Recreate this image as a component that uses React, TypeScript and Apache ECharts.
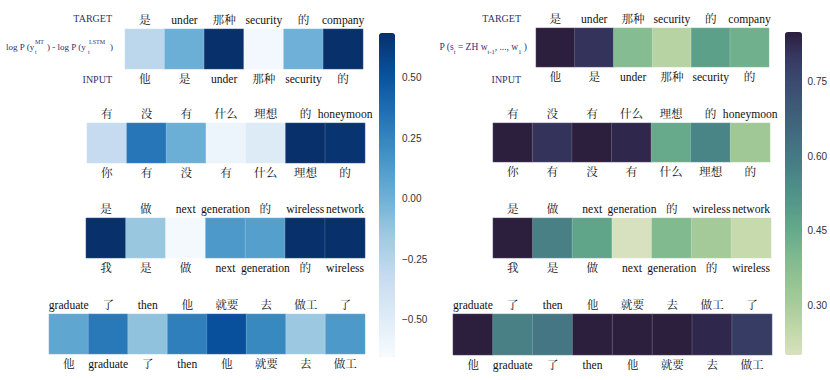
import React, { useEffect, useRef } from "react";
import * as echarts from "echarts";

// ---------- data ----------
const targets1 = ["是", "under", "那种", "security", "的", "company"];
const inputs1 = ["他", "是", "under", "那种", "security", "的"];
const targets2 = ["有", "没", "有", "什么", "理想", "的", "honeymoon"];
const inputs2 = ["你", "有", "没", "有", "什么", "理想", "的"];
const targets3 = ["是", "做", "next", "generation", "的", "wireless", "network"];
const inputs3 = ["我", "是", "做", "next", "generation", "的", "wireless"];
const targets4 = ["graduate", "了", "then", "他", "就要", "去", "做工", "了"];
const inputs4 = ["他", "graduate", "了", "then", "他", "就要", "去", "做工"];

// left panel: log P(y^MT) - log P(y^LSTM)
const diff1 = [-0.26, 0.03, 0.69, -0.6, 0.02, 0.69];
const diff2 = [-0.3, 0.33, 0.03, -0.56, -0.46, 0.69, 0.67];
const diff3 = [0.69, -0.12, -0.61, 0.15, 0.12, 0.69, 0.69];
const diff4 = [0.08, 0.32, -0.09, 0.29, 0.53, 0.24, -0.13, 0.15];

// right panel: P(s_t = ZH | w_{t-1}, ..., w_1)
const prob1 = [0.85, 0.81, 0.38, 0.27, 0.48, 0.43];
const prob2 = [0.85, 0.81, 0.85, 0.83, 0.45, 0.57, 0.32];
const prob3 = [0.85, 0.58, 0.47, 0.2, 0.39, 0.31, 0.24];
const prob4 = [0.85, 0.58, 0.61, 0.85, 0.85, 0.85, 0.83, 0.79];

const leftRange = [-0.63, 0.69];
const rightRange = [0.2, 0.85];
const leftTicks = { min: -0.75, max: 0.75, interval: 0.25 };
const rightTicks = { min: 0.15, max: 0.9, interval: 0.15 };

// ---------- styles ----------
const BLUES = ["#f7fbff", "#deebf7", "#c6dbef", "#9ecae1", "#6baed6", "#4292c6", "#2171b5", "#08519c", "#08306b"];
const CREST = [
  "#d8e1bf", "#c2d8a9", "#a9cc9a", "#93c393", "#7eb88f", "#66aa8b", "#569a89",
  "#4c8a87", "#457a84", "#416a7e", "#3e5a77", "#3b4a70", "#363862", "#2c1e3d",
];
const SERIF = "'Liberation Serif', 'Times New Roman', 'Noto Serif CJK SC', 'Noto Sans CJK SC', serif";
const SANS = "'Liberation Sans', Arial, 'DejaVu Sans', sans-serif";
const NAVY = "#30306e";

const rows = [
  { t: targets1, i: inputs1 },
  { t: targets2, i: inputs2 },
  { t: targets3, i: inputs3 },
  { t: targets4, i: inputs4 },
];
const leftValues = [diff1, diff2, diff3, diff4];
const rightValues = [prob1, prob2, prob3, prob4];

// grid boxes [left, top, right, bottom]
const leftBoxes = [
  [125, 29, 363, 69],
  [87, 123, 365, 163],
  [86, 218, 365, 258],
  [49, 314, 365, 354],
];
const rightBoxes = [
  [536, 28, 769, 67],
  [493, 123, 770, 162],
  [493, 218, 771, 258],
  [453, 314, 772, 355],
];

const fmt = (v: number) => v.toFixed(2).replace("-", "\u2212");

function buildOption() {
  const grid: any[] = [];
  const xAxis: any[] = [];
  const yAxis: any[] = [];
  const series: any[] = [];
  const panels = [
    { boxes: leftBoxes, values: leftValues },
    { boxes: rightBoxes, values: rightValues },
  ];
  panels.forEach((p, pi) => {
    rows.forEach((row, ri) => {
      const g = pi * 4 + ri;
      const [l, t, r, b] = p.boxes[ri];
      grid.push({ left: l, top: t, width: r - l, height: b - t });
      const lab = { interval: 0, fontSize: 11.6, fontFamily: SERIF, color: "#111" };
      xAxis.push({
        type: "category", gridIndex: g, position: "top", data: row.t,
        axisLine: { show: false }, axisTick: { show: false }, splitLine: { show: false },
        axisLabel: { ...lab, margin: 3 },
      });
      xAxis.push({
        type: "category", gridIndex: g, position: "bottom", data: row.i,
        axisLine: { show: false }, axisTick: { show: false }, splitLine: { show: false },
        axisLabel: { ...lab, margin: 5 },
      });
      yAxis.push({ type: "category", gridIndex: g, data: [""], show: false });
      series.push({
        type: "heatmap",
        xAxisIndex: 2 * g + 1,
        yAxisIndex: g,
        data: p.values[ri].map((v, i) => [i, 0, v]),
        itemStyle: { borderColor: "rgba(255,255,255,0.35)", borderWidth: 0.5 },
        emphasis: { disabled: true },
      });
    });
  });

  // colorbar tick axes
  const cbAxes = [
    { left: 379, top: 17, width: 16, height: 370, ticks: leftTicks },
    { left: 785, top: 7, width: 17, height: 374, ticks: rightTicks },
  ];
  cbAxes.forEach((c, k) => {
    const g = 8 + k;
    grid.push({ left: c.left, top: c.top, width: c.width, height: c.height });
    xAxis.push({ type: "value", gridIndex: g, show: false });
    yAxis.push({
      type: "value", gridIndex: g, position: "right",
      min: c.ticks.min, max: c.ticks.max, interval: c.ticks.interval,
      axisLine: { show: false }, axisTick: { show: false }, splitLine: { show: false },
      axisLabel: {
        showMinLabel: false, showMaxLabel: false, margin: 7,
        fontSize: 10, fontFamily: SANS, color: "#333",
        formatter: (v: number) => fmt(v),
      },
    });
  });

  const txt = (x: number, y: number, text: string, size: number, align = "left") => ({
    type: "text", x, y, silent: true,
    style: { text, fontSize: size, fontFamily: SERIF, fill: NAVY, textAlign: align, textVerticalAlign: "middle" },
  });

  const graphic = [
    txt(112, 18, "TARGET", 10, "right"),
    txt(112, 79, "INPUT", 10, "right"),
    txt(6, 47, "log P (y", 9),
    txt(35, 42, "MT", 6),
    txt(35, 52, "t", 6),
    txt(47, 47, ") - log P (y", 9),
    txt(89, 42, "LSTM", 6),
    txt(88, 52, "t", 6),
    txt(110, 47, ")", 9),

    txt(521, 18, "TARGET", 10, "right"),
    txt(521, 79, "INPUT", 10, "right"),
    {
      type: "text", x: 527, y: 47, silent: true,
      style: {
        text: "{m|P (s}{s|t}{m| = ZH w}{s|t-1}{m|, ..., w}{s|1}{m| )}",
        textAlign: "right", textVerticalAlign: "middle",
        fontFamily: SERIF, fill: NAVY,
        rich: {
          m: { fontSize: 9.5, fontFamily: SERIF, fill: NAVY, color: NAVY, lineHeight: 16, verticalAlign: "middle" },
          s: { fontSize: 6.5, fontFamily: SERIF, fill: NAVY, color: NAVY, lineHeight: 16, verticalAlign: "bottom" },
        },
      },
    },
  ];

  return {
    animation: false,
    backgroundColor: "#ffffff",
    grid,
    xAxis,
    yAxis,
    series,
    graphic,
    visualMap: [
      {
        type: "continuous", min: leftRange[0], max: leftRange[1], seriesIndex: [0, 1, 2, 3],
        inRange: { color: BLUES }, orient: "vertical", left: 379, top: 33,
        itemWidth: 16, itemHeight: 324, calculable: false, padding: 0, showLabel: false,
      },
      {
        type: "continuous", min: rightRange[0], max: rightRange[1], seriesIndex: [4, 5, 6, 7],
        inRange: { color: CREST }, orient: "vertical", left: 785, top: 32,
        itemWidth: 17, itemHeight: 323, calculable: false, padding: 0, showLabel: false,
      },
    ],
  };
}

export default function App() {
  const ref = useRef<HTMLDivElement>(null);
  useEffect(() => {
    if (!ref.current) return;
    const chart = echarts.init(ref.current, undefined, { renderer: "svg" });
    chart.setOption(buildOption() as any);
    return () => chart.dispose();
  }, []);
  return (
    <div
      ref={ref}
      style={{ position: "absolute", left: 0, top: 0, width: 830, height: 380 }}
    />
  );
}
